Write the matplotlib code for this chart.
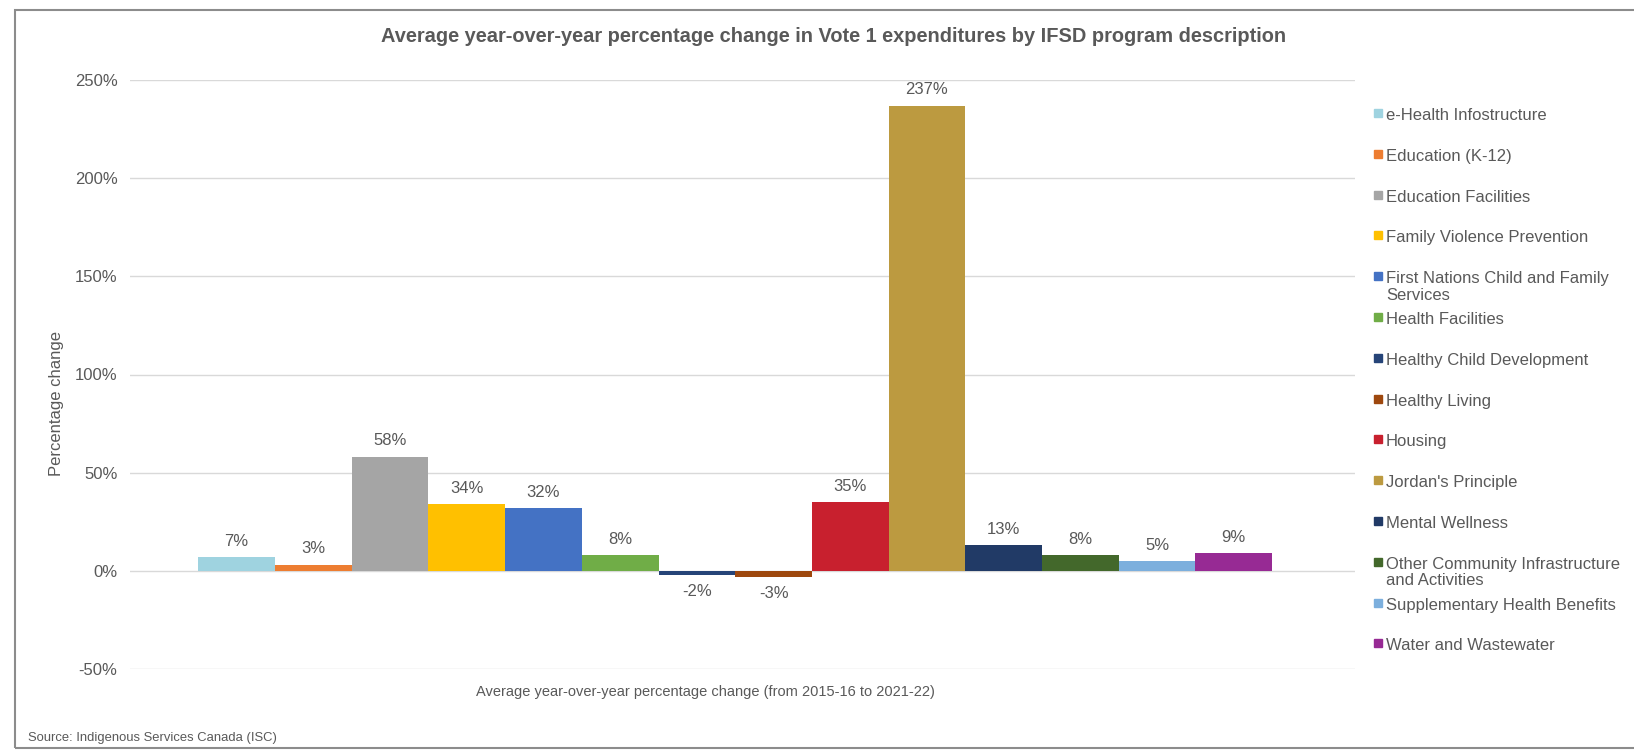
import numpy as np
import matplotlib.pyplot as plt
from matplotlib.patches import Rectangle

plt.rcParams['font.family'] = ['Liberation Sans', 'DejaVu Sans']

# programs, in legend order
programs = [
    'e-Health Infostructure',
    'Education (K-12)',
    'Education Facilities',
    'Family Violence Prevention',
    'First Nations Child and Family\nServices',
    'Health Facilities',
    'Healthy Child Development',
    'Healthy Living',
    'Housing',
    "Jordan's Principle",
    'Mental Wellness',
    'Other Community Infrastructure\nand Activities',
    'Supplementary Health Benefits',
    'Water and Wastewater',
]
pct_change = [7, 3, 58, 34, 32, 8, -2, -3, 35, 237, 13, 8, 5, 9]
colors = ['#9fd3e0', '#ed7d31', '#a5a5a5', '#ffc000', '#4472c4', '#70ad47', '#264478',
          '#9e480e', '#c8202e', '#bc9a40', '#213a66', '#43682b', '#7cafdd', '#972a94']
y_ticks = [-50, 0, 50, 100, 150, 200, 250]

TXT = '#595959'
W, H = 1634, 754

fig = plt.figure(figsize=(W / 100, H / 100), dpi=100)
ax = fig.add_axes([130 / W, 1 - 669 / H, 1225 / W, 589 / H])

x = np.arange(len(pct_change))
ax.bar(x, pct_change, width=1.0, color=colors, zorder=3)

# data labels
for xi, v in zip(x, pct_change):
    off = 11.5 if v >= 0 else -12
    ax.annotate(f'{v}%', (xi, v), xytext=(0, off), textcoords='offset points',
                ha='center', va='center', fontsize=12, color=TXT)

ax.set_xlim(-1.39, 14.58)
ax.set_ylim(-50, 250)
ax.set_yticks(y_ticks)
ax.set_yticklabels([f'{t}%' for t in y_ticks], fontsize=12, color=TXT)
ax.set_xticks([])
ax.tick_params(axis='y', length=0, pad=9)
ax.grid(axis='y', color='#d9d9d9', linewidth=1, zorder=0)
for s in ax.spines.values():
    s.set_visible(False)

fig.text(57 / W, 1 - 404 / H, 'Percentage change', rotation=90,
         ha='center', va='center', fontsize=12, color=TXT)
fig.text(705 / W, 1 - 692 / H,
         'Average year-over-year percentage change (from 2015-16 to 2021-22)',
         ha='center', va='center', fontsize=10.5, color=TXT)

fig.text(834 / W, 1 - 36 / H,
         'Average year-over-year percentage change in Vote 1 expenditures by IFSD program description',
         ha='center', va='center', fontsize=14.4, fontweight='bold', color=TXT)

# legend, fixed slot pitch like Excel
leg_top = 113
pitch = 40.8
for i, (lab, c) in enumerate(zip(programs, colors)):
    yc = leg_top + i * pitch
    fig.patches.append(Rectangle((1374 / W, 1 - (yc + 4) / H), 8 / W, 8 / H,
                                 transform=fig.transFigure, color=c))
    fig.text(1386 / W, 1 - (yc - 5) / H, lab, ha='left', va='top', fontsize=12,
             color=TXT, linespacing=1.12)

fig.text(28 / W, 1 - 738 / H, 'Source: Indigenous Services Canada (ISC)',
         ha='left', va='center', fontsize=9.4, color=TXT)

# outer frame
fig.patches.append(Rectangle((15 / W, 1 - 748 / H), 1.1, 738 / H,
                             transform=fig.transFigure, fill=False,
                             edgecolor='#8c8c8c', linewidth=1.5))

plt.savefig('out.png', dpi=100)
